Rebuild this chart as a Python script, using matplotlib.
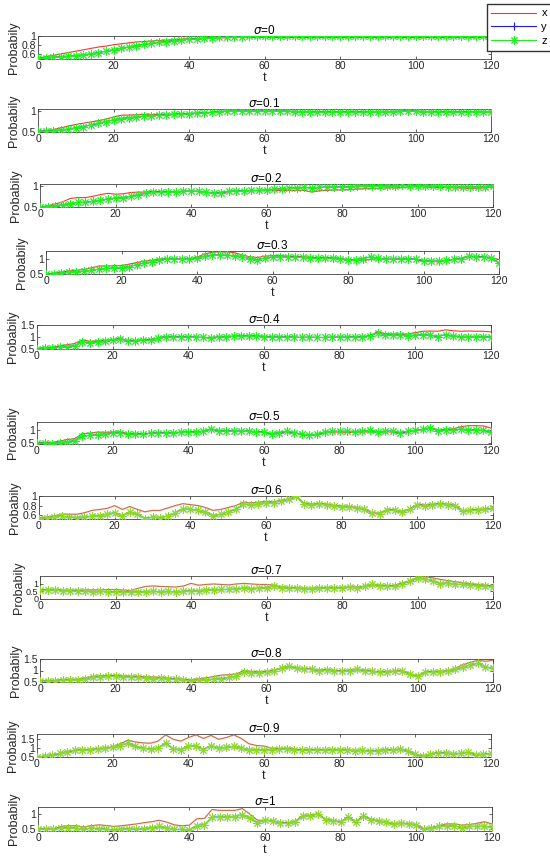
import matplotlib
matplotlib.use("Agg")
import matplotlib.pyplot as plt
from matplotlib.lines import Line2D
from matplotlib.ticker import FormatStrFormatter
import numpy as np

plt.rcParams['font.family'] = ['Liberation Sans', 'DejaVu Sans']

t = list(range(0, 121, 2))
sigma_labels = ['0', '0.1', '0.2', '0.3', '0.4', '0.5', '0.6', '0.7', '0.8', '0.9', '1']

x_s0 = [0.52,0.55,0.58,0.61,0.64,0.67,0.70,0.73,0.76,0.78,0.81,0.83,0.85,0.87,0.88,0.89,0.90,0.91,0.92,0.93,
        0.94,0.945,0.95,0.955,0.96,0.96,0.965,0.965,0.97,0.97,0.97,0.97,0.97,0.97,0.97,0.97,0.97,0.97,0.97,0.97,
        0.97,0.97,0.97,0.97,0.97,0.97,0.97,0.97,0.97,0.97,0.97,0.97,0.97,0.97,0.97,0.97,0.97,0.97,0.97,0.97,0.97]
z_s0 = [0.52,0.53,0.54,0.55,0.56,0.57,0.59,0.61,0.64,0.67,0.70,0.73,0.76,0.79,0.82,0.84,0.86,0.88,0.90,0.92,
        0.93,0.94,0.95,0.96,0.97,0.975,0.98,0.985,0.99,0.99,0.99,0.99,0.99,0.99,0.99,0.99,0.99,0.99,0.99,0.99,
        0.99,0.99,0.99,0.99,0.99,0.99,0.99,0.99,0.99,0.99,0.99,0.99,0.99,0.99,0.99,0.99,0.99,0.99,0.99,0.99,0.99]

x_s1 = [0.52,0.53,0.56,0.60,0.64,0.68,0.71,0.74,0.77,0.81,0.86,0.90,0.905,0.91,0.92,0.92,0.92,0.925,0.93,0.935,
        0.94,0.95,0.96,0.97,0.98,0.99,0.995,0.995,0.995,0.995,0.995,0.995,0.995,0.995,0.985,0.985,0.985,0.975,0.975,0.975,
        0.97,0.975,0.975,0.975,0.985,0.985,0.985,0.985,0.995,1.0,0.995,0.985,0.985,0.975,0.975,0.97,0.975,0.98,0.985,0.985,0.985]
z_s1 = [0.52,0.52,0.53,0.55,0.57,0.60,0.63,0.67,0.71,0.75,0.79,0.82,0.84,0.86,0.88,0.89,0.90,0.91,0.92,0.93,
        0.94,0.95,0.96,0.97,0.99,1.0,1.0,1.0,1.0,1.0,1.0,1.0,1.0,1.0,0.99,0.99,0.99,0.98,0.98,0.98,
        0.975,0.98,0.98,0.98,0.99,0.99,0.99,0.99,1.0,1.01,1.0,0.99,0.99,0.98,0.98,0.975,0.98,0.985,0.99,0.99,0.99]

x_s2 = [0.50,0.53,0.57,0.62,0.70,0.72,0.72,0.75,0.79,0.82,0.80,0.81,0.84,0.85,0.85,0.87,0.86,0.86,0.86,0.87,
        0.87,0.86,0.85,0.82,0.84,0.86,0.87,0.87,0.88,0.88,0.88,0.89,0.89,0.89,0.89,0.89,0.85,0.88,0.89,0.90,
        0.90,0.91,0.92,0.93,0.94,0.94,0.95,0.95,0.96,0.97,0.97,0.97,0.96,0.96,0.95,0.95,0.94,0.94,0.94,0.95,0.97]
z_s2 = [0.50,0.51,0.53,0.55,0.58,0.61,0.61,0.63,0.66,0.69,0.71,0.72,0.75,0.79,0.82,0.85,0.85,0.86,0.86,0.87,
        0.87,0.87,0.85,0.82,0.84,0.87,0.88,0.88,0.89,0.89,0.90,0.92,0.93,0.94,0.95,0.96,0.95,0.96,0.97,0.97,
        0.97,0.98,0.99,0.99,1.0,1.0,1.0,1.0,1.01,1.0,1.0,1.0,0.99,0.99,0.98,0.98,0.97,0.98,0.97,0.98,1.0]

x_s3 = [0.50,0.53,0.56,0.60,0.62,0.65,0.70,0.76,0.76,0.77,0.78,0.82,0.87,0.92,0.95,0.98,1.0,0.99,0.98,0.99,
        1.05,1.15,1.21,1.22,1.22,1.19,1.12,1.06,1.04,1.08,1.10,1.10,1.08,1.07,1.06,1.05,1.03,1.03,1.04,1.0,
        0.97,0.96,0.93,0.98,1.0,0.98,0.98,0.99,1.0,0.97,0.92,0.90,0.90,0.93,0.97,1.0,1.09,1.07,1.06,1.03,0.97]
z_s3 = [0.50,0.51,0.53,0.55,0.57,0.59,0.62,0.66,0.68,0.70,0.71,0.74,0.80,0.86,0.89,0.97,1.0,0.99,0.98,0.99,
        1.02,1.08,1.12,1.12,1.11,1.10,1.06,1.0,0.97,1.02,1.05,1.05,1.04,1.05,1.04,1.03,1.02,1.02,1.03,0.99,
        0.96,0.97,1.0,1.06,1.02,0.98,0.98,0.99,1.0,0.98,0.94,0.92,0.92,0.95,0.98,1.0,1.08,1.06,1.05,1.03,0.85]

x_s4 = [0.52,0.55,0.58,0.62,0.68,0.73,0.88,0.82,0.84,0.86,0.88,0.96,0.84,0.86,0.88,0.90,0.96,1.02,1.0,1.0,
        1.0,0.99,0.98,0.97,1.0,1.02,1.03,1.04,1.06,1.04,1.02,1.0,0.99,1.0,0.99,0.98,0.99,0.98,0.98,0.99,
        0.99,0.99,1.0,1.0,1.05,1.22,1.14,1.12,1.12,1.12,1.18,1.24,1.25,1.24,1.30,1.26,1.24,1.25,1.24,1.24,1.21]
z_s4 = [0.52,0.54,0.56,0.58,0.60,0.64,0.80,0.76,0.80,0.84,0.87,0.93,0.82,0.84,0.87,0.88,0.95,1.02,1.0,1.0,
        1.0,0.99,0.98,0.97,1.0,1.02,1.03,1.04,1.06,1.04,1.02,1.0,0.99,1.0,0.99,0.98,0.99,0.98,0.98,0.99,
        0.99,0.99,1.0,1.0,1.05,1.17,1.10,1.08,1.08,1.06,1.07,1.10,1.07,1.02,1.10,1.04,1.02,1.02,1.02,1.01,1.0]

x_s5 = [0.52,0.52,0.52,0.58,0.64,0.67,0.86,0.88,0.92,0.91,0.92,0.93,0.86,0.87,0.84,0.89,0.89,0.89,0.90,0.91,
        0.92,0.93,0.95,1.05,0.98,0.96,0.95,0.94,0.95,0.93,0.92,0.84,0.89,0.94,0.88,0.82,0.78,0.82,0.90,0.92,
        0.92,0.91,0.90,0.92,0.93,0.90,0.93,0.92,0.90,0.93,0.97,1.02,1.08,0.99,1.02,1.04,1.12,1.16,1.16,1.15,1.07]
z_s5 = [0.50,0.50,0.48,0.52,0.55,0.60,0.78,0.80,0.82,0.85,0.88,0.90,0.83,0.86,0.83,0.88,0.88,0.89,0.90,0.91,
        0.92,0.93,0.95,1.03,0.97,0.96,0.96,0.95,0.96,0.93,0.92,0.85,0.90,0.95,0.90,0.84,0.80,0.84,0.92,0.95,
        0.95,0.95,0.94,0.96,0.99,0.92,0.96,0.95,0.90,0.95,0.99,1.02,1.08,0.97,1.0,0.98,1.04,1.0,1.0,0.98,0.93]

x_s6 = [0.55,0.56,0.58,0.62,0.62,0.62,0.65,0.70,0.72,0.74,0.80,0.72,0.78,0.72,0.67,0.70,0.70,0.75,0.80,0.84,
        0.82,0.80,0.76,0.70,0.72,0.76,0.80,0.87,0.86,0.87,0.89,0.88,0.91,0.94,0.99,0.85,0.83,0.84,0.83,0.80,
        0.79,0.78,0.76,0.73,0.65,0.64,0.72,0.71,0.68,0.73,0.83,0.81,0.83,0.84,0.83,0.81,0.69,0.71,0.72,0.73,0.75]
z_s6 = [0.53,0.55,0.57,0.58,0.56,0.55,0.56,0.58,0.59,0.62,0.65,0.58,0.67,0.62,0.53,0.56,0.55,0.58,0.65,0.73,
        0.72,0.70,0.66,0.59,0.62,0.67,0.72,0.83,0.82,0.83,0.86,0.86,0.90,0.93,0.99,0.84,0.82,0.83,0.82,0.79,
        0.78,0.77,0.75,0.72,0.64,0.63,0.71,0.70,0.67,0.72,0.82,0.80,0.82,0.83,0.82,0.80,0.68,0.70,0.71,0.72,0.74]

x_s7 = [0.60,0.62,0.60,0.58,0.58,0.57,0.58,0.60,0.60,0.62,0.62,0.58,0.55,0.70,0.82,0.85,0.82,0.80,0.78,0.85,
        1.02,0.90,0.95,0.98,0.95,0.92,0.98,1.02,0.98,0.95,0.95,0.90,0.78,0.74,0.72,0.70,0.70,0.72,0.74,0.74,
        0.76,0.78,0.78,0.84,0.97,0.90,0.85,0.90,1.05,1.20,1.42,1.45,1.38,1.28,1.20,1.12,1.05,1.0,0.95,0.90,0.85]
z_s7 = [0.56,0.60,0.60,0.55,0.55,0.50,0.50,0.48,0.50,0.48,0.47,0.47,0.45,0.47,0.48,0.50,0.48,0.50,0.45,0.50,
        0.55,0.50,0.60,0.58,0.62,0.62,0.65,0.72,0.68,0.70,0.75,0.85,0.75,0.72,0.70,0.68,0.68,0.70,0.72,0.72,
        0.74,0.76,0.75,0.82,0.95,0.88,0.82,0.85,1.0,1.15,1.35,1.32,1.20,1.0,1.05,0.95,0.95,0.92,0.88,0.85,0.80]

x_s8 = [0.55,0.56,0.57,0.60,0.62,0.62,0.68,0.74,0.77,0.78,0.79,0.77,0.75,0.74,0.73,0.72,0.70,0.67,0.65,0.62,
        0.60,0.64,0.68,0.74,0.80,0.82,0.85,1.0,0.96,0.96,0.96,1.02,1.12,1.20,1.12,1.07,1.07,1.02,1.04,1.0,
        0.99,1.02,1.07,1.02,0.98,0.94,0.96,0.98,0.99,0.87,0.76,0.94,0.95,0.97,0.99,1.10,1.25,1.35,1.45,1.40,1.45]
z_s8 = [0.55,0.55,0.56,0.58,0.60,0.60,0.65,0.70,0.72,0.74,0.75,0.72,0.70,0.70,0.68,0.65,0.66,0.63,0.62,0.60,
        0.55,0.58,0.60,0.62,0.65,0.70,0.75,0.95,0.90,0.90,0.92,1.0,1.10,1.18,1.10,1.05,1.05,1.0,1.02,0.98,
        0.97,1.0,1.05,1.0,0.96,0.92,0.94,0.96,0.97,0.85,0.74,0.92,0.93,0.95,0.97,1.05,1.15,1.25,1.32,1.15,1.10]

x_s9 = [0.50,0.55,0.62,0.70,0.80,0.88,0.90,0.92,0.95,1.0,1.08,1.25,1.45,1.35,1.30,1.28,1.40,1.75,1.50,1.40,
        1.60,1.75,1.55,1.72,1.50,1.60,1.75,1.55,1.25,1.15,1.12,1.0,0.98,1.0,0.95,0.90,0.91,0.91,0.89,0.91,
        0.93,0.89,0.87,0.89,0.83,0.86,0.91,0.89,0.96,0.86,0.66,0.56,0.66,0.76,0.73,0.69,0.71,0.78,0.63,0.66,0.71]
z_s9 = [0.50,0.55,0.62,0.70,0.80,0.88,0.90,0.92,0.95,1.0,1.05,1.15,1.30,1.10,1.0,0.95,1.0,1.30,0.95,0.92,
        1.10,1.12,0.92,1.15,1.0,1.05,1.10,1.02,0.90,0.88,0.90,0.88,0.95,0.98,0.92,0.88,0.90,0.90,0.88,0.90,
        0.92,0.88,0.86,0.88,0.82,0.85,0.90,0.88,0.95,0.85,0.65,0.55,0.65,0.75,0.72,0.68,0.70,0.77,0.62,0.65,0.70]

x_s10 = [0.52,0.52,0.50,0.60,0.62,0.62,0.58,0.62,0.65,0.63,0.60,0.62,0.65,0.68,0.72,0.75,0.80,0.74,0.65,0.62,
         0.64,0.85,0.86,1.15,1.12,1.12,1.12,1.18,1.0,0.80,0.80,0.79,0.73,0.71,0.76,0.96,0.96,1.01,0.83,0.79,
         0.75,0.91,0.75,0.95,0.83,0.78,0.75,0.69,0.71,0.69,0.65,0.52,0.56,0.62,0.68,0.68,0.64,0.66,0.70,0.75,0.68]
z_s10 = [0.52,0.52,0.50,0.55,0.56,0.55,0.50,0.55,0.52,0.52,0.47,0.52,0.52,0.50,0.53,0.55,0.60,0.55,0.50,0.50,
         0.48,0.62,0.65,0.90,0.90,0.92,0.92,0.98,0.88,0.72,0.80,0.78,0.72,0.70,0.75,0.95,0.95,1.0,0.82,0.78,
         0.74,0.90,0.74,0.94,0.82,0.77,0.74,0.68,0.70,0.68,0.64,0.50,0.55,0.60,0.62,0.62,0.56,0.60,0.60,0.60,0.58]

x_series = [x_s0, x_s1, x_s2, x_s3, x_s4, x_s5, x_s6, x_s7, x_s8, x_s9, x_s10]
z_series = [z_s0, z_s1, z_s2, z_s3, z_s4, z_s5, z_s6, z_s7, z_s8, z_s9, z_s10]
y_series = z_series  # y coincides with z in the reference

y_limits = [(0.5, 1.0), (0.5, 1.05), (0.5, 1.04), (0.5, 1.25), (0.5, 1.5), (0.47, 1.3),
            (0.52, 1.0), (0.0, 1.5), (0.5, 1.5), (0.5, 1.8), (0.45, 1.23)]
y_ticks = [[0.6, 0.8, 1], [0.5, 1], [0.5, 1], [0.5, 1], [0.5, 1, 1.5], [0.5, 1],
           [0.6, 0.8, 1], [0, 0.5, 1], [0.5, 1, 1.5], [0.5, 1, 1.5], [0.5, 1]]
x_ticks = [0, 20, 40, 60, 80, 100, 120]

# pixel boxes (left, top, right, bottom)
boxes = [(38, 36, 491, 59), (38, 109, 491, 132), (40, 184, 493, 207), (46, 251, 499, 274),
         (37, 325, 491, 349), (37, 422, 491, 444), (39, 496, 493, 519), (40, 576, 493, 599),
         (40, 659, 493, 682), (37, 734, 491, 757), (38, 807, 492, 831)]

W, H = 550, 865
fig = plt.figure(figsize=(W / 100, H / 100), dpi=100)
fig.patch.set_facecolor('white')

ASTER = (8, 2, 0)
txt = '#262626'
for i in range(11):
    l, tp, r, b = boxes[i]
    ax = fig.add_axes([l / W, 1 - b / H, (r - l) / W, (b - tp) / H])
    xs = np.array(x_series[i]); zs = np.array(z_series[i]); ys = np.array(y_series[i])
    lo, hi = y_limits[i]
    shade = i >= 6
    if shade:
        band = 0.09 * (hi - lo)
        ax.fill_between(t, zs - band, zs + band, color='#c6f5ee', lw=0, zorder=1)
        ax.fill_between(t, xs - band * 0.6, xs + band * 0.6, color='#fbe4e4', lw=0, zorder=1, alpha=0.8)
        xcol = '#c0704f'
        zcol = '#8fd630'
    else:
        if i == 5:
            ax.fill_between(t[:7], zs[:7] - 0.05, zs[:7] + 0.05, color='#c6f5ee', lw=0, zorder=1)
        xcol = '#ff3030'
        zcol = '#22ee22'
    ax.plot(t, xs, color=xcol, lw=0.8, zorder=3)
    ax.plot(t, ys, color='#1a1aff' if not shade else '#2a5a8a', lw=0.8, marker='+', ms=4, mew=0.6, zorder=4)
    ax.plot(t, zs, color=zcol, lw=0.8, marker=ASTER, ms=6, mew=0.7, zorder=5)
    ax.set_xlim(0, 120)
    ax.set_ylim(lo, hi)
    ax.set_xticks(x_ticks)
    ax.set_yticks(y_ticks[i])
    ax.yaxis.set_major_formatter(FormatStrFormatter('%g'))
    ax.tick_params(direction='in', top=True, right=True, length=2.5, width=0.5,
                   labelsize=7.5, colors=txt, pad=1.5)
    if i == 7:
        ax.tick_params(axis='y', labelsize=6.5, pad=1)
    for s in ax.spines.values():
        s.set_color('#404040'); s.set_linewidth(0.6)
    ax.set_title(r'$\sigma$=' + sigma_labels[i], fontsize=8.5, color='black', pad=1.5)
    ax.set_xlabel('t', fontsize=9, color=txt, labelpad=1)
    ax.set_ylabel('Probabily', fontsize=9, color=txt, labelpad=1)

handles = [Line2D([], [], color='#ff3030', lw=0.8),
           Line2D([], [], color='#1a1aff', lw=0.8, marker='+', ms=6, mew=0.8),
           Line2D([], [], color='#22ee22', lw=0.8, marker=ASTER, ms=6, mew=0.7)]
fig.legend(handles, ['x', 'y', 'z'], loc='upper left', bbox_to_anchor=(487 / W, 1 - 4 / H),
           fontsize=8, frameon=True, fancybox=False, edgecolor='#333333', framealpha=1,
           handlelength=4.0, borderaxespad=0, borderpad=0.4, labelspacing=0.35, handletextpad=0.5)

fig.savefig('out.png', dpi=100)
